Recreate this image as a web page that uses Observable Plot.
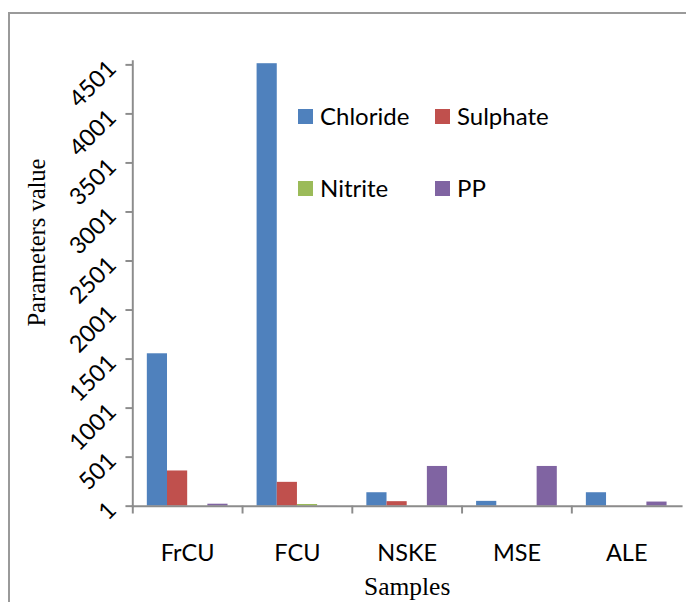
<!DOCTYPE html>
<html><head><meta charset="utf-8">
<script src="https://cdn.jsdelivr.net/npm/d3@7"></script>
<script src="https://cdn.jsdelivr.net/npm/@observablehq/plot@0.6"></script>
<style>
html,body{margin:0;padding:0;background:#fff;overflow:hidden;width:686px;height:602px}
#wrap{position:relative;width:686px;height:602px;overflow:hidden}
#border{position:absolute;left:8px;top:12px;width:700px;height:620px;border-top:2px solid #9a9a9a;border-left:2px solid #9a9a9a;box-sizing:border-box}
#chart{position:absolute;left:0;top:0}
.lg{position:absolute;display:flex;align-items:center;font-family:Lato,sans-serif;font-size:24px;color:#000;white-space:nowrap;line-height:1}
.lg .sw{width:15px;height:15px;margin-right:7px;flex:none}
</style></head>
<body><div id="wrap"><div id="border"></div><div id="chart"></div></div>
<script>
const samples = ["FrCU", "FCU", "NSKE", "MSE", "ALE"];
const series = ["Chloride", "Sulphate", "Nitrite", "PP"];
const colors = ["#4F81BD", "#C0504D", "#9BBB59", "#8064A2"];
const chloride = [1555, 4513, 138, 50, 138];
const sulphate = [360, 244, 47, 0, 0];
const nitrite = [0, 18, 0, 0, 0];
const pp = [21, 0, 406, 406, 43];
const yTicks = [1, 501, 1001, 1501, 2001, 2501, 3001, 3501, 4001, 4501];
const yMax = 4538;
const xTitle = "Samples";
const yTitle = "Parameters value";

const valuesBySeries = [chloride, sulphate, nitrite, pp];
const data = [];
samples.forEach((s, i) => series.forEach((k, j) => data.push({sample: s, series: k, value: valuesBySeries[j][i]})));

const W = 700, H = 602, ML = 135, MR = 5, MT = 62, MB = 86;
const step = (W - ML - MR) / samples.length;
const gray = "#8c8c8c";

const chart = Plot.plot({
  width: W, height: H, marginLeft: ML, marginRight: MR, marginTop: MT, marginBottom: MB,
  style: {fontFamily: "Lato, sans-serif", background: "transparent", overflow: "visible"},
  fx: {domain: samples, padding: 0},
  x: {domain: series, paddingInner: 0, paddingOuter: 0.72, round: false, axis: null},
  y: {domain: [1, yMax], axis: null},
  color: {domain: series, range: colors},
  marks: [
    Plot.barY(data, {fx: "sample", x: "series", y1: 1, y2: "value", fill: "series"}),
    Plot.frame({anchor: "left", facet: "super", stroke: gray, strokeWidth: 2}),
    Plot.frame({anchor: "bottom", facet: "super", stroke: gray, strokeWidth: 2}),
    Plot.axisY({ticks: yTicks, tickFormat: d => String(d), tickSize: 7, tickPadding: 14, tickRotate: -45, stroke: gray, strokeWidth: 2, fill: "#000", fontSize: 24, label: null}),
    Plot.axisFx({anchor: "bottom", tickSize: 8, dx: -step / 2, tickFormat: () => "", stroke: gray, strokeWidth: 2, label: null}),
    Plot.axisFx({anchor: "bottom", tickSize: 0, tickPadding: 39, fontSize: 24, fill: "#000", label: null}),
    Plot.text([xTitle], {text: d => d, facet: "super", frameAnchor: "bottom", textAnchor: "middle", lineAnchor: "bottom", dy: 91, fontFamily: "Liberation Serif", fontSize: 26, fill: "#000"}),
    Plot.text([yTitle], {text: d => d, facet: "super", frameAnchor: "left", textAnchor: "middle", lineAnchor: "bottom", rotate: -90, dx: -90, dy: -42, fontFamily: "Liberation Serif", fontSize: 25, fill: "#000"})
  ]
});
document.getElementById("chart").appendChild(chart);

// legend (2 x 2 grid inside plot area)
const wrap = document.getElementById("wrap");
series.forEach((k, j) => {
  const el = document.createElement("div");
  el.className = "lg";
  el.style.left = (298 + (j % 2) * 137) + "px";
  el.style.top = (104 + Math.floor(j / 2) * 72) + "px";
  el.innerHTML = `<span class="sw" style="background:${colors[j]}"></span><span>${k}</span>`;
  wrap.appendChild(el);
});
</script>
</body></html>
